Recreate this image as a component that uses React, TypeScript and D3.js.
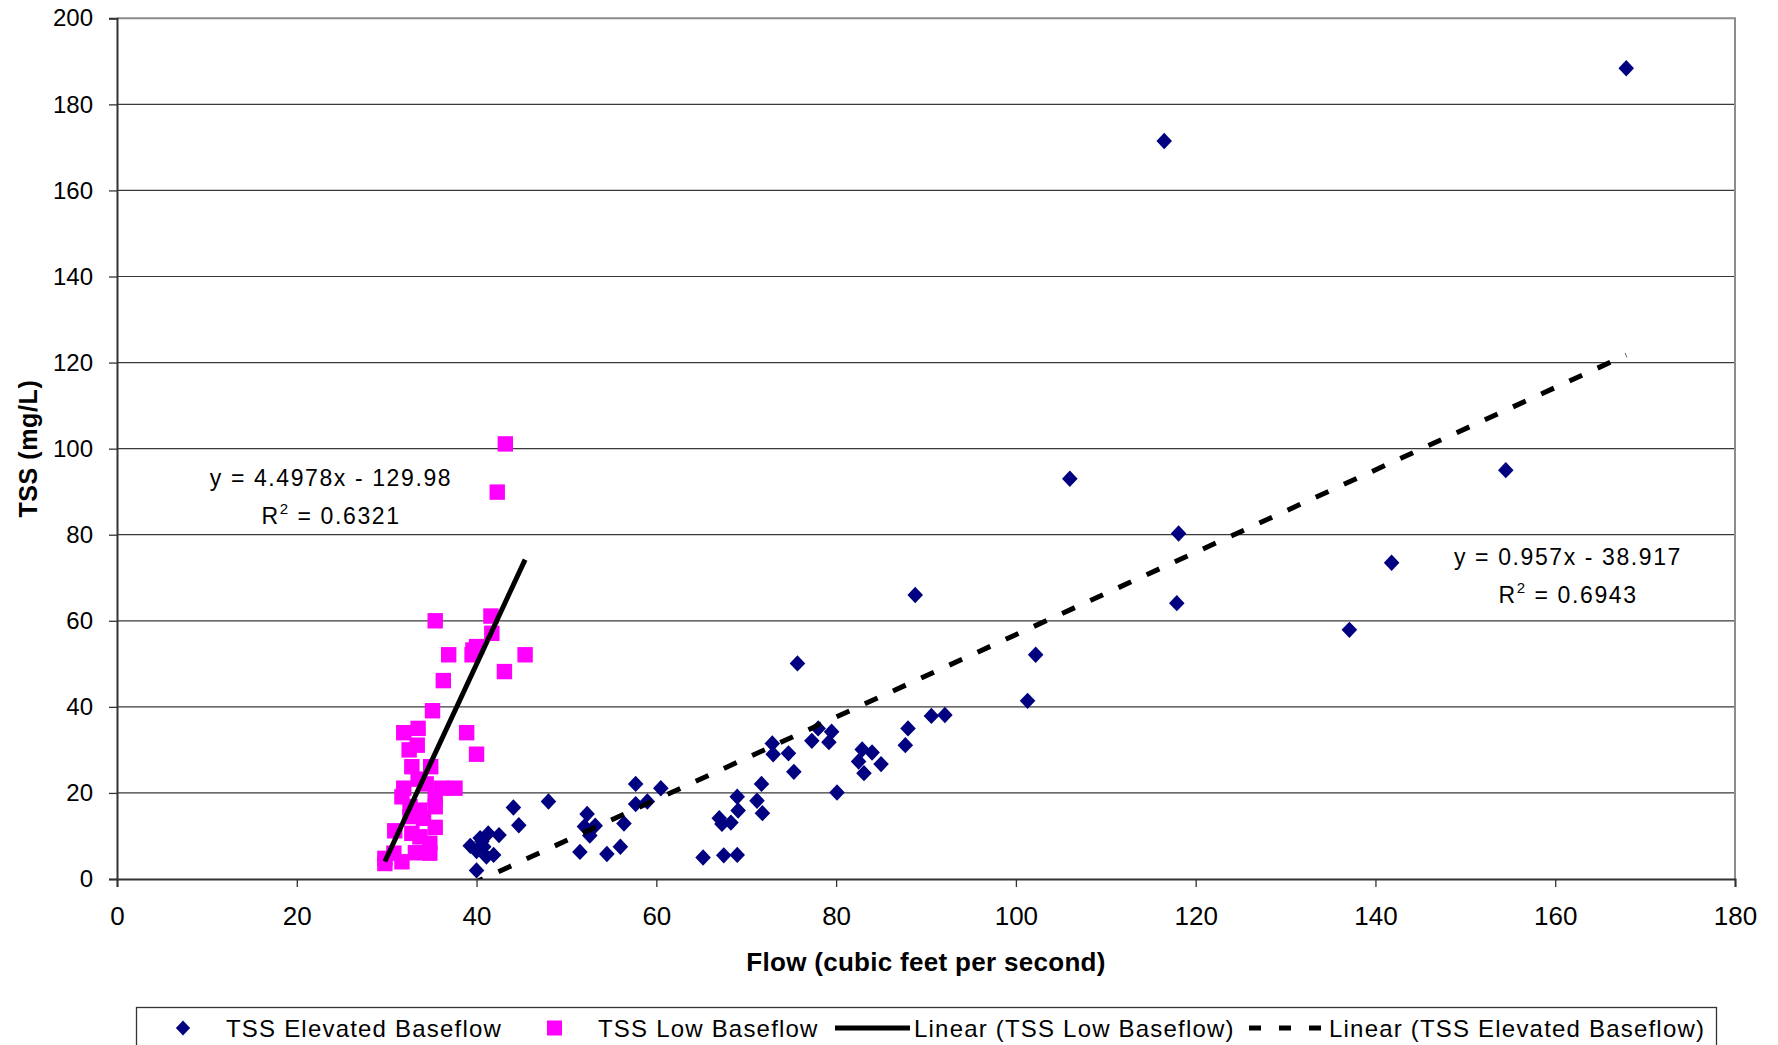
import React, { useEffect, useRef } from 'react';
import * as d3 from 'd3';

// Flow (cfs) vs TSS (mg/L)
const elevatedBaseflow: [number, number][] = [
  [40.0, 2.0], [39.3, 7.7], [40.0, 6.5], [40.4, 9.5], [40.8, 7.5], [41.1, 5.2], [41.3, 10.6], [41.9, 5.6],
  [42.5, 10.2], [40.6, 8.8], [44.1, 16.6], [44.7, 12.5], [48.0, 18.0], [51.5, 6.3], [52.3, 15.1], [52.0, 12.2],
  [53.2, 12.4], [52.6, 10.1], [54.5, 5.8], [56.0, 7.5], [56.4, 12.9], [57.7, 22.1], [57.7, 17.4], [59.0, 18.0],
  [60.5, 21.1], [65.2, 5.0], [67.5, 5.5], [69.0, 5.6], [67.0, 14.1], [67.3, 12.8], [68.3, 13.1], [69.0, 19.1],
  [69.1, 15.9], [71.2, 18.2], [71.7, 22.1], [71.8, 15.3], [72.9, 31.5], [73.0, 29.0], [74.7, 29.2], [75.3, 24.9],
  [75.7, 50.1], [77.3, 32.1], [78.0, 35.0], [79.2, 31.8], [79.5, 34.2], [80.1, 20.1], [82.5, 27.3], [82.9, 30.1],
  [83.1, 24.6], [84.0, 29.4], [85.0, 26.7], [87.7, 31.1], [88.0, 35.0], [88.8, 66.0], [90.6, 37.9], [92.1, 38.1],
  [101.3, 41.4], [102.2, 52.1], [106.0, 93.0], [116.5, 171.5], [117.9, 64.1], [118.1, 80.3], [137.1, 57.9],
  [141.8, 73.5], [154.5, 95.0], [167.9, 188.4],
];

const lowBaseflow: [number, number][] = [
  [35.4, 60.0], [41.6, 61.1], [41.7, 57.1], [36.9, 52.1], [39.5, 52.1], [39.6, 53.2], [40.0, 54.0], [45.4, 52.1],
  [43.1, 48.2], [36.3, 46.1], [35.1, 39.1], [31.9, 34.0], [33.5, 35.0], [38.9, 34.0], [40.0, 29.0], [32.5, 30.0],
  [33.4, 31.1], [32.8, 26.1], [34.9, 26.1], [33.5, 23.2], [31.9, 21.1], [34.4, 22.1], [36.1, 21.1], [37.6, 21.1],
  [31.7, 19.1], [35.4, 18.8], [35.4, 16.8], [32.6, 16.8], [33.7, 16.0], [32.6, 14.5], [34.1, 14.1], [35.4, 12.0],
  [30.9, 11.2], [32.8, 10.6], [33.7, 9.8], [34.8, 8.3], [34.8, 6.0], [33.2, 6.1], [31.7, 4.0], [29.8, 4.8],
  [29.8, 3.6], [30.8, 6.0], [43.2, 101.1], [42.3, 89.9],
];

// trendline coefficients as printed on the chart
const lowFit = { slope: 4.4978, intercept: -129.98, eq: 'y = 4.4978x - 129.98', r2: '0.6321' };
const elevatedFit = { slope: 0.957, intercept: -38.917, eq: 'y = 0.957x - 38.917', r2: '0.6943' };

const xTicks = [0, 20, 40, 60, 80, 100, 120, 140, 160, 180];
const yTicks = [0, 20, 40, 60, 80, 100, 120, 140, 160, 180, 200];

const legendLabels = ['TSS Elevated Baseflow', 'TSS Low Baseflow', 'Linear (TSS Low Baseflow)', 'Linear (TSS Elevated Baseflow)'];

const W = 1778, H = 1045;
const plot = { left: 117, right: 1735, top: 18.3, bottom: 879 };
const font = "Arial, 'Liberation Sans', sans-serif";
const NAVY = '#000080', PINK = '#FF00FF';

const diamond = (r: number) => `M0,${-r}L${r * 0.95},0L0,${r}L${-r * 0.95},0Z`;

export default function App() {
  const svgRef = useRef<SVGSVGElement>(null);

  useEffect(() => {
    const svg = d3.select(svgRef.current);
    svg.selectAll('*').remove();

    const x = d3.scaleLinear().domain([0, 180]).range([plot.left, plot.right]);
    const y = d3.scaleLinear().domain([0, 200]).range([plot.bottom, plot.top]);

    svg.append('defs').append('clipPath').attr('id', 'plotClip')
      .append('rect')
      .attr('x', plot.left).attr('y', plot.top)
      .attr('width', plot.right - plot.left).attr('height', plot.bottom - plot.top);

    // gridlines
    svg.append('g').selectAll('line')
      .data(yTicks.filter(t => t > 0 && t < 200))
      .join('line')
      .attr('x1', plot.left).attr('x2', plot.right)
      .attr('y1', d => y(d)).attr('y2', d => y(d))
      .attr('stroke', '#3a3a3a').attr('stroke-width', 1.2);

    // frame: top/right gray
    svg.append('path')
      .attr('d', `M${plot.left},${plot.top}H${plot.right}V${plot.bottom}`)
      .attr('fill', 'none').attr('stroke', '#8c8c8c').attr('stroke-width', 2);

    // y axis
    const yAxis = svg.append('g')
      .attr('transform', `translate(${plot.left},0)`)
      .call(d3.axisLeft(y).tickValues(yTicks).tickSize(8).tickPadding(16));
    yAxis.select('.domain').attr('stroke', '#333').attr('stroke-width', 2);
    yAxis.selectAll('.tick line').attr('stroke', '#333').attr('stroke-width', 1.3);
    yAxis.selectAll('.tick text').attr('font-family', font).attr('font-size', 24).attr('fill', '#000');

    // x axis
    const xAxis = svg.append('g')
      .attr('transform', `translate(0,${plot.bottom})`)
      .call(d3.axisBottom(x).tickValues(xTicks).tickSize(8).tickPadding(20));
    xAxis.select('.domain').attr('stroke', '#333').attr('stroke-width', 2);
    xAxis.selectAll('.tick line').attr('stroke', '#333').attr('stroke-width', 1.3);
    xAxis.selectAll('.tick text').attr('font-family', font).attr('font-size', 26).attr('fill', '#000');

    const marks = svg.append('g').attr('clip-path', 'url(#plotClip)');

    // trendlines over each series' x extent
    const fitLine = (data: [number, number][], fit: { slope: number; intercept: number }) => {
      const [x0, x1] = d3.extent(data, d => d[0]) as [number, number];
      return d3.line<number>().x(v => x(v)).y(v => y(fit.slope * v + fit.intercept))([x0, x1]);
    };

    // elevated points
    marks.append('g').selectAll('path')
      .data(elevatedBaseflow)
      .join('path')
      .attr('transform', d => `translate(${x(d[0])},${y(d[1])})`)
      .attr('d', diamond(8.2))
      .attr('fill', NAVY);

    // low points
    marks.append('g').selectAll('rect')
      .data(lowBaseflow)
      .join('rect')
      .attr('x', d => x(d[0]) - 7.7).attr('y', d => y(d[1]) - 7.7)
      .attr('width', 15.4).attr('height', 15.4)
      .attr('fill', PINK);

    marks.append('path')
      .attr('d', fitLine(elevatedBaseflow, elevatedFit))
      .attr('stroke', '#000').attr('stroke-width', 5).attr('fill', 'none')
      .attr('stroke-dasharray', '14,17');

    marks.append('path')
      .attr('d', fitLine(lowBaseflow, lowFit))
      .attr('stroke', '#000').attr('stroke-width', 5).attr('fill', 'none');

    // trendline equations
    const eqLabel = (cx: number, by: number, fit: { eq: string; r2: string }) => {
      const g = svg.append('g')
        .attr('font-family', font).attr('font-size', 23).attr('letter-spacing', 1.6)
        .attr('text-anchor', 'middle').attr('fill', '#000');
      g.append('text').attr('x', cx).attr('y', by).text(fit.eq);
      const t = g.append('text').attr('x', cx).attr('y', by + 38);
      t.append('tspan').text('R');
      t.append('tspan').attr('dy', -10).attr('font-size', 15).text('2');
      t.append('tspan').attr('dy', 10).text(` = ${fit.r2}`);
    };
    eqLabel(331, 486, lowFit);
    eqLabel(1568, 565, elevatedFit);

    // axis titles
    svg.append('text')
      .attr('x', (plot.left + plot.right) / 2).attr('y', 971)
      .attr('text-anchor', 'middle')
      .attr('font-family', font).attr('font-size', 26).attr('font-weight', 'bold')
      .attr('letter-spacing', 0.3)
      .text('Flow (cubic feet per second)');

    svg.append('text')
      .attr('transform', `translate(37,${(plot.top + plot.bottom) / 2}) rotate(-90)`)
      .attr('text-anchor', 'middle')
      .attr('font-family', font).attr('font-size', 25).attr('font-weight', 'bold')
      .attr('letter-spacing', 0.6)
      .text('TSS (mg/L)');

    // legend
    const legend = svg.append('g');
    legend.append('rect')
      .attr('x', 136.5).attr('y', 1007.5).attr('width', 1580).attr('height', 60)
      .attr('fill', '#fff').attr('stroke', '#333').attr('stroke-width', 1.3);

    const ly = 1028;
    const textX = [226, 598, 914, 1329];
    legend.append('path').attr('transform', `translate(183,${ly})`).attr('d', diamond(7.5)).attr('fill', NAVY);
    legend.append('rect').attr('x', 547).attr('y', ly - 7.5).attr('width', 15).attr('height', 15).attr('fill', PINK);
    legend.append('line').attr('x1', 835).attr('x2', 910).attr('y1', ly).attr('y2', ly)
      .attr('stroke', '#000').attr('stroke-width', 5);
    legend.append('line').attr('x1', 1249).attr('x2', 1321).attr('y1', ly).attr('y2', ly)
      .attr('stroke', '#000').attr('stroke-width', 5).attr('stroke-dasharray', '12,18');
    legend.selectAll('text.lbl')
      .data(legendLabels)
      .join('text')
      .attr('class', 'lbl')
      .attr('x', (_, i) => textX[i]).attr('y', 1037)
      .attr('font-family', font).attr('font-size', 24).attr('letter-spacing', 1.2)
      .text(d => d);
  }, []);

  return (
    <div style={{ position: 'absolute', left: 0, top: 0, width: W, height: H, background: '#fff' }}>
      <svg ref={svgRef} width={W} height={H} style={{ display: 'block' }} />
    </div>
  );
}
